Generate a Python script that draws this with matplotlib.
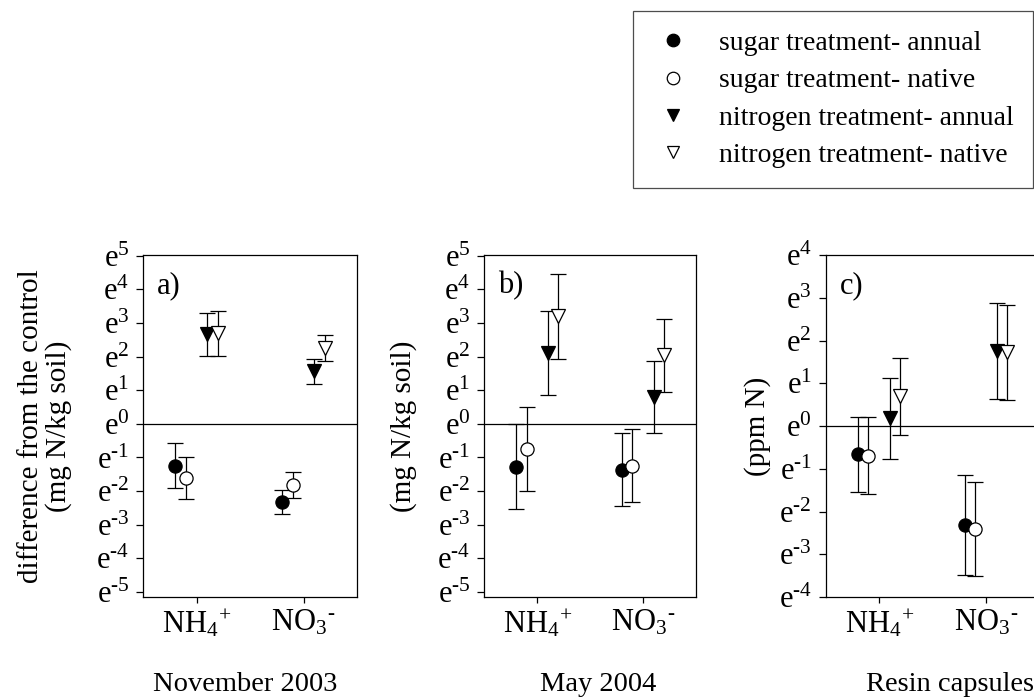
import numpy as np
import matplotlib
matplotlib.use('Agg')
import matplotlib.pyplot as plt
from matplotlib.lines import Line2D

plt.rcParams['font.family'] = ['Liberation Serif', 'DejaVu Serif']
plt.rcParams['mathtext.fontset'] = 'custom'
plt.rcParams['mathtext.rm'] = 'Liberation Serif'
plt.rcParams['mathtext.default'] = 'regular'
plt.rcParams['font.size'] = 20

# ion categories on the x axis
ions = [r'NH$_4$$^{\text{+}}$', r'NO$_3$$^{\text{-}}$']
series = ['sugar treatment- annual', 'sugar treatment- native',
          'nitrogen treatment- annual', 'nitrogen treatment- native']

# natural log of the difference from control; rows = series, cols = ions
nov_mean = [[-1.24, -2.32], [-1.61, -1.83], [2.66, 1.56], [2.69, 2.25]]
nov_err = [[0.66, 0.35], [0.63, 0.39], [0.65, 0.38], [0.66, 0.38]]

may_mean = [[-1.27, -1.36], [-0.74, -1.24], [2.10, 0.80], [3.20, 2.04]]
may_err = [[1.27, 1.08], [1.25, 1.08], [1.25, 1.07], [1.26, 1.08]]

resin_mean = [[-0.66, -2.31], [-0.70, -2.41], [0.18, 1.76], [0.70, 1.72]]
resin_err = [[0.88, 1.17], [0.90, 1.09], [0.95, 1.12], [0.90, 1.11]]

markers = ['o', 'o', 'v', 'v']
faces = ['black', 'white', 'black', 'white']
offsets = [-0.2, -0.1, 0.1, 0.2]

fig = plt.figure(figsize=(10.34, 6.98), dpi=100)
W, H = 1034.0, 698.0


def panel(left, right, mean, err, lims, letter, xlabel, ylabel, ylab_x, xlab_x):
    ax = fig.add_axes([left / W, 101 / H, (right - left) / W, 342 / H])
    x = np.arange(1, len(ions) + 1)
    for i in range(4):
        ax.errorbar(x + offsets[i], mean[i], yerr=err[i], fmt=markers[i],
                    ms=9.5, mfc=faces[i], mec='black', mew=0.9,
                    ecolor='black', elinewidth=0.9, capsize=5.5, capthick=0.9)
    ax.axhline(0, color='black', lw=0.9)
    ax.set_xlim(0.5, 2.5)
    ax.set_ylim(lims[0], lims[1])
    yt = np.arange(int(np.ceil(lims[0])), int(np.floor(lims[1])) + 1)
    ax.set_yticks(yt)
    ax.set_yticklabels([r'e$^{\text{%d}}$' % v for v in yt])
    ax.set_xticks(x)
    ax.set_xticklabels(ions)
    ax.tick_params(axis='y', direction='out', length=5, width=0.9, pad=5, labelsize=22)
    ax.tick_params(axis='x', direction='out', length=4, width=0.9, pad=4, labelsize=22)
    for s in ax.spines.values():
        s.set_linewidth(0.9)
    ax.text(0.065, 0.91, letter, transform=ax.transAxes, ha='left', va='center', fontsize=22)
    ax.text(ylab_x, 0.5, ylabel, transform=ax.transAxes, rotation=90,
            ha='center', va='center', multialignment='center', linespacing=1.05,
            fontsize=21)
    ax.set_xlabel(xlabel, fontsize=20.5)
    ax.xaxis.set_label_coords(xlab_x, -0.22)
    return ax


panel(143.3, 357.0, nov_mean, nov_err, (-5.15, 5.02), 'a)', 'November 2003',
      'difference from the control\n(mg N/kg soil)', -0.46, 0.476)
panel(484.3, 696.0, may_mean, may_err, (-5.15, 5.02), 'b)', 'May 2004',
      '(mg N/kg soil)', -0.38, 0.537)
panel(825.7, 1039.4, resin_mean, resin_err, (-4.0, 4.0), 'c)', 'Resin capsules',
      '(ppm N)', -0.32, 0.582)

handles = [Line2D([], [], ls='none', marker=markers[i], ms=9, mfc=faces[i],
                  mec='black', mew=0.9) for i in range(4)]
leg = fig.legend(handles, series, loc='upper left',
                 bbox_to_anchor=(633 / W, 1 - 11 / H), borderaxespad=0,
                 fontsize=20, frameon=True, fancybox=False, framealpha=1,
                 edgecolor='0.3', borderpad=0.7, handlelength=1.45,
                 handletextpad=0.95, labelspacing=0.43)
leg.get_frame().set_linewidth(0.9)

fig.savefig('out.png', dpi=100)
